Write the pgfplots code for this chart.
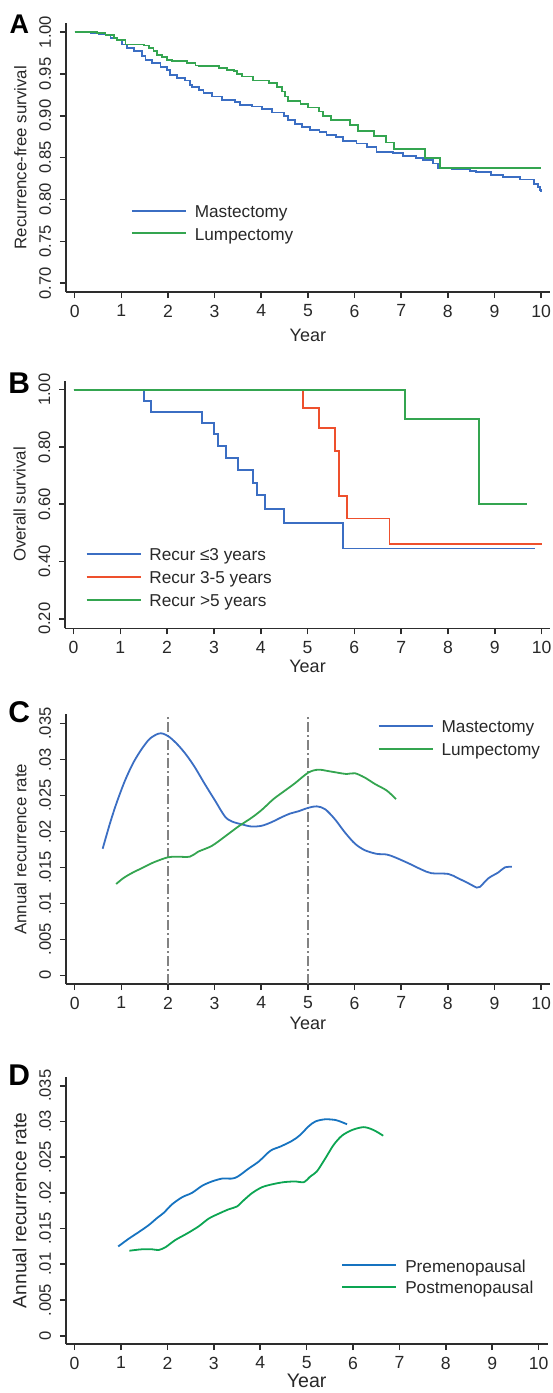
\documentclass[border=0pt]{standalone}
\usepackage{fontspec}
\setmainfont{Liberation Sans}
\usepackage{graphicx}
\usepackage{pgfplots}
\pgfplotsset{compat=1.18}

\definecolor{kmblue}{RGB}{59,110,195}
\definecolor{kmgreen}{RGB}{52,165,80}
\definecolor{kmred}{RGB}{238,80,45}
\definecolor{dblue}{RGB}{22,115,192}
\definecolor{dgreen}{RGB}{12,165,82}
\definecolor{axgray}{RGB}{45,45,45}
\definecolor{txtgray}{RGB}{40,40,40}
\definecolor{refgray}{RGB}{130,130,130}

\pgfplotsset{
  panel/.style={
    scale only axis, anchor=south west,
    axis lines=left, axis line style={-, line width=0.8pt, draw=axgray},
    tick align=outside, major tick length=3pt,
    tick style={line width=0.8pt, draw=axgray},
    xmin=-0.19, xmax=10.19, xtick={0,1,...,10},
    scaled y ticks=false,
    /pgf/number format/assume math mode=true,
    xticklabel style={font=\fontsize{8.8}{10}\selectfont, text=txtgray,
                      inner sep=0pt, anchor=north},
    xticklabel shift=3.2pt,
    yticklabel style={font=\fontsize{8.3}{10}\selectfont, text=txtgray,
                      rotate=90, anchor=south, inner sep=0pt},
    yticklabel shift=4.2pt,
    xlabel={Year},
    xlabel style={at={(axis description cs:0.5,0)}, anchor=north, inner sep=0pt,
                  font=\fontsize{9}{10}\selectfont, text=txtgray},
    ylabel style={at={([xshift=-19.7pt]axis description cs:0,0.5)}, anchor=base,
                  inner sep=0pt, font=\fontsize{8.4}{10}\selectfont, text=txtgray},
    legend style={draw=none, fill=none, inner sep=0pt, outer sep=0pt,
                  font=\fontsize{8.6}{10}\selectfont, text=txtgray,
                  row sep=3.1pt, cells={anchor=base west}, yshift=-1.3pt,
                  nodes={inner sep=0pt, text height=6.3pt, text depth=1.9pt},
                  /tikz/every odd column/.append style={column sep=4pt}},
    legend image code/.code={\draw[#1, line width=0.9pt] (0pt,3.5pt) -- (27pt,3.5pt);},
    every axis plot/.append style={line width=0.9pt},
  },
}

\begin{document}
\begin{tikzpicture}
\path[use as bounding box] (0,0) rectangle (276pt,-696.5pt);

% ---------------- A ----------------
\begin{axis}[panel, at={(32.9pt,-146pt)}, width=242.1pt, height=134.35pt,
  ymin=0.6896, ymax=1.0104,
  ytick={0.70,0.75,0.80,0.85,0.90,0.95,1.00},
  yticklabels={0.70,0.75,0.80,0.85,0.90,0.95,1.00},
  ylabel={Recurrence-free survival},
  xlabel style={yshift=-18.2pt},
  legend style={at={(0.1347,0.2605)}, anchor=west}]
\addplot[const plot, kmblue] coordinates {
 (0,1.000) (0.34,0.999) (0.52,0.998) (0.66,0.996) (0.77,0.993) (0.91,0.990)
 (1.02,0.985) (1.12,0.981) (1.27,0.977) (1.44,0.971) (1.52,0.967) (1.66,0.963)
 (1.84,0.958) (1.98,0.955) (2.05,0.949) (2.19,0.945) (2.37,0.942) (2.48,0.937)
 (2.51,0.934) (2.66,0.931) (2.76,0.927) (2.94,0.923) (3.16,0.919) (3.44,0.916)
 (3.55,0.913) (3.80,0.911) (4.01,0.908) (4.23,0.904) (4.48,0.900) (4.58,0.895)
 (4.73,0.890) (4.87,0.887) (5.04,0.883) (5.25,0.881) (5.40,0.877) (5.61,0.875)
 (5.76,0.870) (6.04,0.867) (6.26,0.863) (6.47,0.857) (6.83,0.856) (7.04,0.852)
 (7.32,0.850) (7.47,0.847) (7.68,0.843) (7.79,0.838) (8.08,0.836) (8.47,0.834)
 (8.61,0.833) (8.93,0.829) (9.18,0.827) (9.54,0.824) (9.84,0.819) (9.93,0.815)
 (9.98,0.811) (10.0,0.809)};
\addplot[const plot, kmgreen] coordinates {
 (0,1.000) (0.48,0.999) (0.66,0.996) (0.84,0.993) (0.91,0.990) (1.09,0.985)
 (1.48,0.984) (1.59,0.981) (1.69,0.977) (1.76,0.973) (1.87,0.970) (1.98,0.967)
 (2.09,0.965) (2.41,0.963) (2.59,0.960) (2.66,0.959) (3.09,0.957) (3.26,0.955)
 (3.41,0.953) (3.48,0.950) (3.59,0.947) (3.83,0.942) (4.16,0.939) (4.33,0.934)
 (4.44,0.929) (4.51,0.923) (4.58,0.918) (4.84,0.914) (5.01,0.910) (5.24,0.905)
 (5.32,0.900) (5.50,0.895) (5.91,0.889) (6.08,0.882) (6.42,0.876) (6.67,0.868)
 (6.84,0.860) (7.51,0.850) (7.84,0.838) (10.0,0.838)};
\legend{Mastectomy,Lumpectomy}
\end{axis}

% ---------------- B ----------------
\begin{axis}[panel, at={(32.55pt,-314.15pt)}, width=242.45pt, height=123.8pt,
  xmin=-0.18, xmax=10.18,
  ymin=0.1665, ymax=1.0314,
  ytick={0.20,0.40,0.60,0.80,1.00},
  yticklabels={0.20,0.40,0.60,0.80,1.00},
  ylabel={Overall survival},
  xlabel style={yshift=-15.9pt},
  legend style={at={(0.0423,0.2084)}, anchor=west, row sep=3.3pt}]
\addplot[const plot, kmblue] coordinates {
 (0,1.000) (1.50,0.960) (1.66,0.923) (2.75,0.885) (3.00,0.846) (3.09,0.803)
 (3.25,0.761) (3.51,0.719) (3.83,0.675) (3.92,0.631) (4.09,0.584) (4.50,0.534)
 (5.75,0.445) (9.85,0.445)};
\addplot[const plot, kmred] coordinates {
 (0,1.000) (4.91,0.936) (5.25,0.865) (5.58,0.786) (5.67,0.629) (5.85,0.550)
 (6.75,0.460) (10.0,0.460)};
\addplot[const plot, kmgreen] coordinates {
 (0,1.000) (7.09,0.899) (8.67,0.600) (9.68,0.600)};
\legend{Recur ≤3 years,Recur 3-5 years,Recur >5 years}
\end{axis}

% ---------------- C ----------------
\begin{axis}[panel, at={(32.9pt,-492pt)}, width=242.1pt, height=134.85pt,
  ymin=-0.00121, ymax=0.0363,
  ytick={0,0.005,0.01,0.015,0.02,0.025,0.03,0.035},
  yticklabels={0,.005,.01,.015,.02,.025,.03,.035},
  ylabel={Annual recurrence rate},
  xlabel style={yshift=-16.5pt},
  legend style={at={(0.6444,0.9145)}, anchor=west, row sep=3.4pt}]
\addplot[forget plot, refgray, line width=0.6pt,
  dash pattern=on 5pt off 1.5pt on 1pt off 1.5pt] coordinates {(2,-0.00121) (2,0.0363)};
\addplot[forget plot, refgray, line width=0.6pt,
  dash pattern=on 5pt off 1.5pt on 1pt off 1.5pt] coordinates {(5,-0.00121) (5,0.0363)};
\addplot[smooth, kmblue] coordinates {
 (0.60,0.0176) (0.76,0.0212) (0.90,0.0240) (1.08,0.0271) (1.26,0.0296)
 (1.44,0.0315) (1.61,0.0329) (1.79,0.0336) (1.90,0.0336) (2.04,0.0331)
 (2.22,0.0320) (2.40,0.0306) (2.58,0.0289) (2.79,0.0266) (3.01,0.0243)
 (3.22,0.0221) (3.37,0.0214) (3.58,0.0210) (3.79,0.0207) (4.01,0.0208)
 (4.22,0.0213) (4.44,0.0220) (4.62,0.0225) (4.79,0.0228) (5.01,0.0233)
 (5.19,0.0235) (5.37,0.0231) (5.58,0.0217) (5.79,0.0199) (6.01,0.0183)
 (6.22,0.0174) (6.47,0.0169) (6.69,0.0168) (6.87,0.0164) (7.15,0.0156)
 (7.44,0.0147) (7.65,0.0142) (8.01,0.0141) (8.22,0.0135) (8.44,0.0128)
 (8.62,0.0122) (8.69,0.0123) (8.87,0.0135) (9.08,0.0143) (9.22,0.0150)
 (9.37,0.0151)};
\addplot[smooth, kmgreen] coordinates {
 (0.89,0.0127) (1.04,0.0135) (1.22,0.0142) (1.47,0.0150) (1.69,0.0157)
 (1.99,0.0164) (2.19,0.0165) (2.47,0.0165) (2.65,0.0172) (2.94,0.0180)
 (3.22,0.0193) (3.51,0.0207) (3.79,0.0219) (4.01,0.0230) (4.26,0.0245)
 (4.51,0.0257) (4.72,0.0267) (5.01,0.0282) (5.22,0.0286) (5.44,0.0284)
 (5.62,0.0282) (5.83,0.0280) (6.01,0.0281) (6.22,0.0275) (6.44,0.0266)
 (6.69,0.0257) (6.89,0.0245)};
\legend{Mastectomy,Lumpectomy}
\end{axis}

% ---------------- D ----------------
\begin{axis}[panel, at={(32.9pt,-672pt)}, width=240.85pt, height=133.65pt,
  ymin=-0.00116, ymax=0.03626,
  ytick={0,0.005,0.01,0.015,0.02,0.025,0.03,0.035},
  yticklabels={0,.005,.01,.015,.02,.025,.03,.035},
  ylabel={Annual recurrence rate},
  ylabel style={font=\fontsize{9.6}{11}\selectfont},
  xlabel style={yshift=-15pt, font=\fontsize{9.8}{11}\selectfont},
  legend style={at={(0.5723,0.255)}, anchor=west, row sep=2.6pt}]
\addplot[smooth, dblue] coordinates {
 (0.94,0.0125) (1.17,0.0136) (1.38,0.0145) (1.60,0.0155) (1.78,0.0165)
 (1.92,0.0172) (2.10,0.0184) (2.32,0.0194) (2.53,0.0200) (2.75,0.0210)
 (2.96,0.0216) (3.18,0.0220) (3.39,0.0220) (3.52,0.0223) (3.75,0.0234)
 (3.97,0.0244) (4.22,0.0259) (4.44,0.0265) (4.69,0.0273) (4.86,0.0281)
 (5.04,0.0293) (5.19,0.0300) (5.40,0.0303) (5.62,0.0302) (5.76,0.0299)
 (5.87,0.0296)};
\addplot[smooth, dgreen] coordinates {
 (1.18,0.0119) (1.45,0.0121) (1.67,0.0121) (1.81,0.0120) (1.96,0.0124)
 (2.17,0.0134) (2.42,0.0143) (2.67,0.0153) (2.89,0.0164) (3.11,0.0171)
 (3.32,0.0177) (3.50,0.0181) (3.65,0.0190) (3.83,0.0200) (4.04,0.0208)
 (4.26,0.0212) (4.51,0.0215) (4.76,0.0216) (4.94,0.0215) (5.08,0.0223)
 (5.22,0.0230) (5.40,0.0248) (5.58,0.0267) (5.76,0.0280) (5.98,0.0288)
 (6.23,0.0292) (6.44,0.0288) (6.65,0.0280)};
\legend{Premenopausal,Postmenopausal}
\end{axis}

\node[anchor=base west, inner sep=0pt, font=\bfseries\fontsize{13.5}{14}\selectfont] at (4.6pt,-16.65pt) {A};
\node[anchor=base west, inner sep=0pt, font=\bfseries\fontsize{15}{15}\selectfont] at (4.0pt,-196.65pt) {B};
\node[anchor=base west, inner sep=0pt, font=\bfseries\fontsize{15}{15}\selectfont] at (4.0pt,-361.3pt) {C};
\node[anchor=base west, inner sep=0pt, font=\bfseries\fontsize{15}{15}\selectfont] at (4.0pt,-542.5pt) {D};
\end{tikzpicture}
\end{document}
